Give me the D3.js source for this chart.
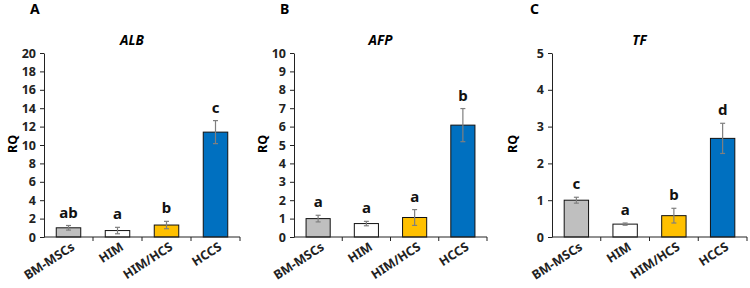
<!DOCTYPE html>
<html>
<head>
<meta charset="utf-8">
<script src="https://cdn.jsdelivr.net/npm/d3@7"></script>
<style>
  body { margin: 0; background: #fff; }
  svg text { font-family: "Noto Sans", "DejaVu Sans", sans-serif; }
  .tick text { font-size: 12.5px; font-weight: bold; fill: #222; }
  .domain, .tick line { stroke: #222; }
</style>
</head>
<body>
<svg id="chart" width="750" height="288"></svg>
<script>
// groups shared by the three panels
const groups = ["BM-MSCs", "HIM", "HIM/HCS", "HCCS"];
const bar_colors = ["#bfbfbf", "#ffffff", "#ffc000", "#0070c0"];

// panel A - ALB
const alb_values = [1.0, 0.7, 1.3, 11.4];
const alb_errors = [0.25, 0.35, 0.4, 1.25];
const alb_letters = ["ab", "a", "b", "c"];
const alb_ticks = [0, 2, 4, 6, 8, 10, 12, 14, 16, 18, 20];

// panel B - AFP
const afp_values = [1.0, 0.73, 1.06, 6.08];
const afp_errors = [0.18, 0.12, 0.43, 0.9];
const afp_letters = ["a", "a", "a", "b"];
const afp_ticks = [0, 1, 2, 3, 4, 5, 6, 7, 8, 9, 10];

// panel C - TF
const tf_values = [1.0, 0.35, 0.58, 2.68];
const tf_errors = [0.08, 0.03, 0.2, 0.41];
const tf_letters = ["c", "a", "b", "d"];
const tf_ticks = [0, 1, 2, 3, 4, 5];

let panels = [
    {tag: "A", gene: "ALB", values: alb_values, errors: alb_errors, letters: alb_letters, ticks: alb_ticks, left: 0, x0: 44, x1: 240},
    {tag: "B", gene: "AFP", values: afp_values, errors: afp_errors, letters: afp_letters, ticks: afp_ticks, left: 250, x0: 294, x1: 487},
    {tag: "C", gene: "TF", values: tf_values, errors: tf_errors, letters: tf_letters, ticks: tf_ticks, left: 500, x0: 552, x1: 747}
];

let svg = d3.select("#chart");
let y_top = 53, y_bottom = 237;

panels.forEach((p) => {
    let g = svg.append("g");

    let x = d3.scaleBand().domain(groups).range([p.x0, p.x1]).paddingInner(0.5).paddingOuter(0.25);
    let y = d3.scaleLinear().domain([0, d3.max(p.ticks)]).range([y_bottom, y_top]);

    // panel letter, gene title, axis label
    g.append("text")
        .attr("x", p.left + 30).attr("y", 14)
        .attr("font-size", 14).attr("font-weight", "bold")
        .text(p.tag);

    g.append("text")
        .attr("x", (p.x0 + p.x1) / 2 - 10).attr("y", 45)
        .attr("text-anchor", "middle")
        .attr("font-size", 13.5).attr("font-weight", "bold").attr("font-style", "italic")
        .text(p.gene);

    g.append("text")
        .attr("transform", `translate(${p.left + 17}, 144) rotate(-90)`)
        .attr("text-anchor", "middle")
        .attr("font-size", 12.5).attr("font-weight", "bold")
        .text("RQ");

    // y axis
    g.append("g")
        .attr("transform", `translate(${p.x0}, 0)`)
        .call(d3.axisLeft(y).tickValues(p.ticks).tickFormat(d3.format("d")).tickSize(4).tickPadding(4).tickSizeOuter(0));

    // x axis: ticks between the groups
    let bounds = groups.map((d) => x(d) - x.step() * x.paddingInner() / 2).concat([p.x1]);
    let bline = svg.append("g");
    bline.append("line")
        .attr("x1", p.x0).attr("x2", p.x1)
        .attr("y1", y_bottom).attr("y2", y_bottom)
        .attr("stroke", "#222");
    bline.selectAll("line.tk")
        .data(bounds.slice(1)).enter()
        .append("line")
        .classed("tk", true)
        .attr("x1", (d) => d).attr("x2", (d) => d)
        .attr("y1", y_bottom).attr("y2", y_bottom + 4)
        .attr("stroke", "#222");

    bline.selectAll("text.xlab")
        .data(groups).enter()
        .append("text")
        .classed("xlab", true)
        .attr("transform", (d) => `translate(${x(d) + x.bandwidth() / 2 + 7}, ${y_bottom + 12}) rotate(-33)`)
        .attr("text-anchor", "end")
        .attr("font-size", 12.5).attr("font-weight", "bold").attr("fill", "#222")
        .text((d) => d);

    // bars
    g.selectAll("rect.bar")
        .data(groups).enter()
        .append("rect")
        .attr("x", (d) => x(d))
        .attr("y", (d, i) => y(p.values[i]))
        .attr("width", x.bandwidth())
        .attr("height", (d, i) => y_bottom - y(p.values[i]))
        .attr("fill", (d, i) => bar_colors[i])
        .attr("stroke", "#111").attr("stroke-width", 1);

    // error bars
    groups.forEach((d, i) => {
        let cx = x(d) + x.bandwidth() / 2,
            hi = y(p.values[i] + p.errors[i]),
            lo = y(p.values[i] - p.errors[i]);
        g.append("line").attr("x1", cx).attr("x2", cx).attr("y1", hi).attr("y2", lo)
            .attr("stroke", "#7f7f7f").attr("stroke-width", 1.2);
        g.append("line").attr("x1", cx - 2.5).attr("x2", cx + 2.5).attr("y1", hi).attr("y2", hi)
            .attr("stroke", "#7f7f7f").attr("stroke-width", 1.2);
        g.append("line").attr("x1", cx - 2.5).attr("x2", cx + 2.5).attr("y1", lo).attr("y2", lo)
            .attr("stroke", "#7f7f7f").attr("stroke-width", 1.2);

        // significance letters
        g.append("text")
            .attr("x", cx).attr("y", hi - 8)
            .attr("text-anchor", "middle")
            .attr("font-size", 15).attr("font-weight", "bold").attr("fill", "#111")
            .text(p.letters[i]);
    });
});
</script>
</body>
</html>
